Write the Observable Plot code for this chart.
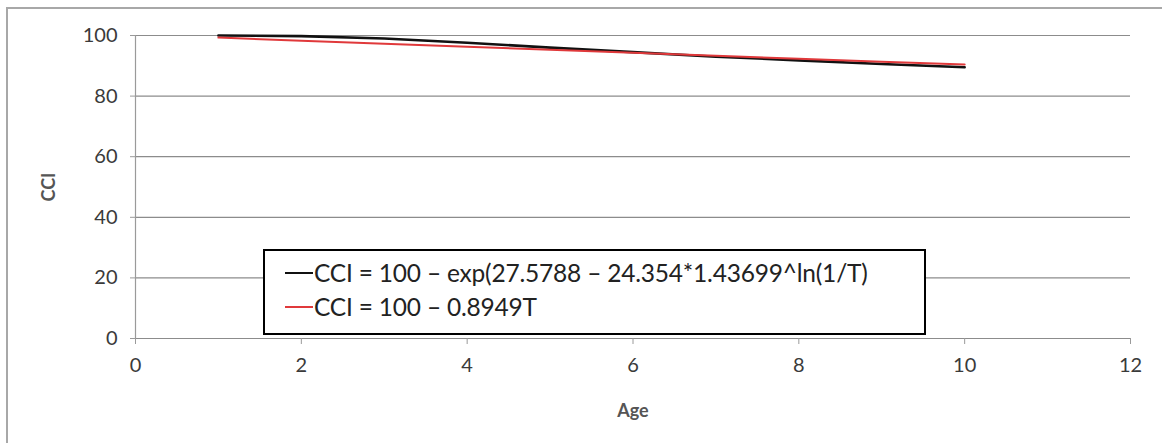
<!DOCTYPE html>
<html>
<head>
<meta charset="utf-8">
<script src="https://cdn.jsdelivr.net/npm/d3@7"></script>
<script src="https://cdn.jsdelivr.net/npm/@observablehq/plot@0.6"></script>
<style>
  body { margin: 0; background: #fff; }
  #wrap { position: relative; width: 1162px; height: 443px; overflow: hidden; font-family: Lato, "Open Sans", sans-serif; }
  #frame { position: absolute; left: 6px; top: 7px; width: 1200px; height: 500px; border-left: 2px solid #a8a8a8; border-top: 2px solid #a8a8a8; }
  #chart { position: absolute; left: 0; top: 0; }
  #legend { position: absolute; left: 263px; top: 249px; width: 659px; height: 82px; border: 2px solid #000; background: #fff; }
  .row { position: absolute; left: 20px; display: flex; align-items: center; font-size: 24.5px; color: #222; white-space: nowrap; letter-spacing: -0.2px; }
  .swatch { width: 28px; height: 0; margin-right: 1px; }
</style>
</head>
<body>
<div id="wrap">
  <div id="frame"></div>
  <div id="chart"></div>
  <div id="legend"></div>
</div>
<script>
const ages = [1, 2, 3, 4, 5, 6, 7, 8, 9, 10];
const cciExp = [100, 99.8, 99.0, 97.6, 96.0, 94.5, 93.0, 91.8, 90.6, 89.5];
const cciLinear = [99.3, 98.3, 97.3, 96.3, 95.3, 94.3, 93.3, 92.3, 91.3, 90.4];
const seriesNames = [
  "CCI = 100 \u2013 exp(27.5788 \u2013 24.354*1.43699^ln(1/T)",
  "CCI = 100 \u2013 0.8949T"
];
const seriesColors = ["#111111", "#e0393b"];
const xTicks = [0, 2, 4, 6, 8, 10, 12];
const yTicks = [0, 20, 40, 60, 80, 100];

const rows = [];
ages.forEach((a, i) => {
  rows.push({age: a, cci: cciExp[i], series: seriesNames[0]});
  rows.push({age: a, cci: cciLinear[i], series: seriesNames[1]});
});

const chart = Plot.plot({
  width: 1162,
  height: 443,
  marginLeft: 135,
  marginRight: 32,
  marginTop: 35,
  marginBottom: 105,
  style: {fontFamily: "Lato, 'Open Sans', sans-serif", fontSize: "20px", color: "#3a3a3a", background: "transparent"},
  x: {domain: [0, 12], ticks: xTicks},
  y: {domain: [0, 100], ticks: yTicks},
  color: {domain: seriesNames, range: seriesColors},
  marks: [
    Plot.gridY(yTicks, {stroke: "#8c8c8c", strokeOpacity: 1, strokeWidth: 1.2}),
    Plot.ruleX([0], {stroke: "#9a9a9a", strokeWidth: 1.2}),
    Plot.axisY(yTicks, {tickSize: 5, tickPadding: 13, stroke: "#9a9a9a", label: "CCI", labelAnchor: "center", labelArrow: "none", labelOffset: 93, fontSize: 20}),
    Plot.axisX(xTicks, {tickSize: 6, tickPadding: 13, stroke: "#9a9a9a", label: "Age", labelAnchor: "center", labelArrow: "none", labelOffset: 78, fontSize: 20}),
    Plot.line(rows.filter(d => d.series === seriesNames[0]), {x: "age", y: "cci", stroke: "series", strokeWidth: 2.6}),
    Plot.line(rows.filter(d => d.series === seriesNames[1]), {x: "age", y: "cci", stroke: "series", strokeWidth: 2})
  ]
});
document.getElementById("chart").appendChild(chart);

// axis titles bold like the reference
chart.querySelectorAll("[aria-label='y-axis label'] text, [aria-label='x-axis label'] text").forEach(t => {
  t.setAttribute("font-weight", "bold");
  t.setAttribute("font-size", "18");
  t.setAttribute("fill", "#555");
});

const legend = document.getElementById("legend");
seriesNames.forEach((name, i) => {
  const row = document.createElement("div");
  row.className = "row";
  row.style.top = (i === 0 ? 7 : 41) + "px";
  const sw = document.createElement("span");
  sw.className = "swatch";
  sw.style.borderTop = "2px solid " + seriesColors[i];
  const tx = document.createElement("span");
  tx.textContent = name;
  row.appendChild(sw);
  row.appendChild(tx);
  legend.appendChild(row);
});
</script>
</body>
</html>
